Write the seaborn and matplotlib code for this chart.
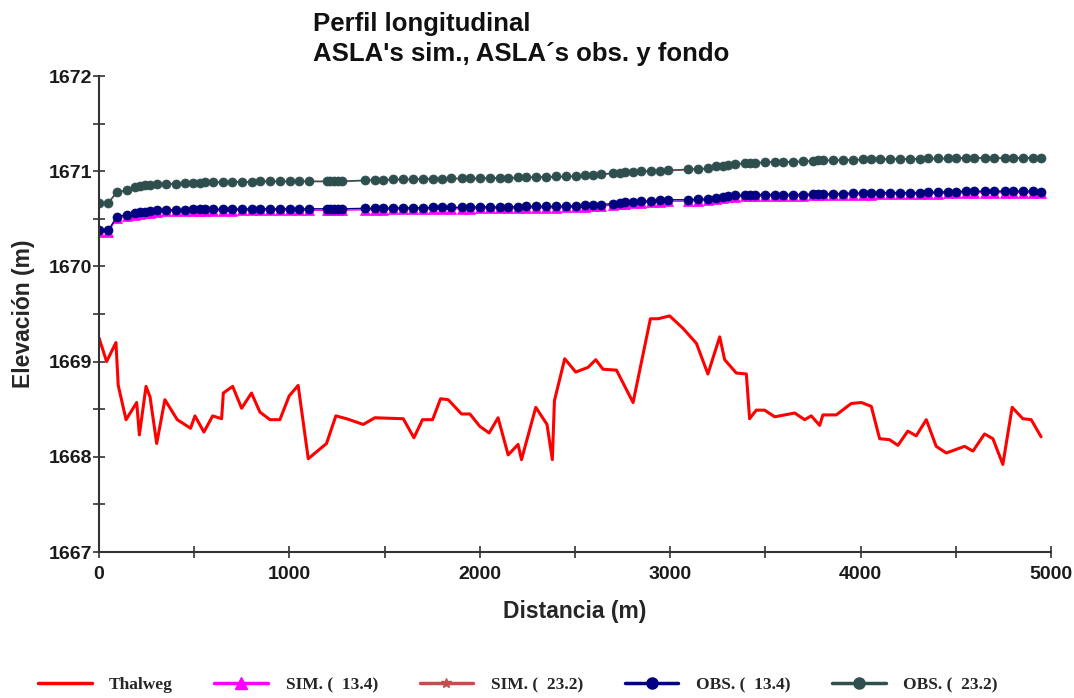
import numpy as np
import pandas as pd
import matplotlib
matplotlib.use('Agg')
import matplotlib.pyplot as plt
from matplotlib.lines import Line2D
from matplotlib.ticker import MultipleLocator
import seaborn as sns

# thalweg (fondo del cauce)
thalweg_x = [0, 40, 89, 101, 142, 198, 212, 247, 268, 303, 346, 411, 481, 504, 551, 597, 644, 653,
             702, 749, 801, 845, 898, 950, 999, 1046, 1099, 1195, 1244, 1300, 1388, 1449, 1598, 1654,
             1699, 1752, 1794, 1834, 1904, 1948, 2000, 2049, 2096, 2149, 2201, 2219, 2294, 2353, 2381,
             2392, 2446, 2504, 2569, 2609, 2647, 2718, 2805, 2896, 2936, 2997, 3067, 3138, 3198, 3260,
             3286, 3347, 3400, 3417, 3452, 3496, 3549, 3654, 3706, 3741, 3785, 3802, 3872, 3951, 4004,
             4056, 4100, 4152, 4196, 4248, 4292, 4345, 4397, 4450, 4546, 4590, 4651, 4695, 4747, 4796,
             4852, 4896, 4948]
thalweg_z = [1669.25, 1669.00, 1669.20, 1668.75, 1668.39, 1668.57, 1668.23, 1668.74, 1668.63, 1668.14,
             1668.60, 1668.39, 1668.30, 1668.43, 1668.26, 1668.43, 1668.40, 1668.67, 1668.74, 1668.51,
             1668.67, 1668.47, 1668.39, 1668.39, 1668.64, 1668.75, 1667.98, 1668.14, 1668.43, 1668.40,
             1668.34, 1668.41, 1668.40, 1668.20, 1668.39, 1668.39, 1668.61, 1668.60, 1668.45, 1668.45,
             1668.32, 1668.25, 1668.41, 1668.02, 1668.13, 1667.97, 1668.52, 1668.34, 1667.97, 1668.59,
             1669.03, 1668.89, 1668.94, 1669.02, 1668.92, 1668.91, 1668.57, 1669.45, 1669.45, 1669.48,
             1669.35, 1669.19, 1668.87, 1669.26, 1669.02, 1668.88, 1668.87, 1668.40, 1668.49, 1668.49,
             1668.42, 1668.46, 1668.39, 1668.43, 1668.33, 1668.44, 1668.44, 1668.56, 1668.57, 1668.53,
             1668.19, 1668.18, 1668.12, 1668.27, 1668.22, 1668.39, 1668.11, 1668.04, 1668.11, 1668.06,
             1668.24, 1668.19, 1667.92, 1668.52, 1668.40, 1668.39, 1668.21]

# secciones con nivel de agua
stations = [0, 49, 93, 145, 189, 215, 242, 268, 303, 352,
            404, 451, 495, 530, 556, 600, 649, 696, 749, 801,
            845, 898, 950, 1003, 1052, 1104, 1195, 1215, 1235, 1255,
            1275, 1396, 1449, 1493, 1545, 1598, 1650, 1702, 1755, 1799,
            1851, 1904, 1947, 1999, 2052, 2105, 2149, 2201, 2245, 2297,
            2350, 2402, 2455, 2507, 2550, 2595, 2639, 2700, 2735, 2761,
            2805, 2848, 2901, 2945, 2988, 3093, 3146, 3198, 3242, 3277,
            3303, 3338, 3391, 3417, 3443, 3496, 3548, 3592, 3645, 3697,
            3750, 3776, 3802, 3855, 3907, 3960, 4012, 4056, 4100, 4152,
            4205, 4257, 4310, 4353, 4406, 4458, 4502, 4554, 4598, 4651,
            4703, 4756, 4800, 4852, 4904, 4948]

obs_232 = [1670.67, 1670.67, 1670.78, 1670.80, 1670.83, 1670.84, 1670.85, 1670.855, 1670.87, 1670.87,
           1670.87, 1670.875, 1670.88, 1670.88, 1670.885, 1670.885, 1670.885, 1670.89, 1670.89, 1670.89,
           1670.895, 1670.895, 1670.895, 1670.895, 1670.895, 1670.895, 1670.895, 1670.895, 1670.895, 1670.895,
           1670.895, 1670.905, 1670.91, 1670.91, 1670.915, 1670.915, 1670.915, 1670.92, 1670.92, 1670.92,
           1670.925, 1670.925, 1670.925, 1670.925, 1670.93, 1670.93, 1670.93, 1670.935, 1670.935, 1670.94,
           1670.94, 1670.945, 1670.945, 1670.95, 1670.955, 1670.96, 1670.97, 1670.98, 1670.985, 1670.99,
           1670.995, 1671.00, 1671.005, 1671.005, 1671.01, 1671.02, 1671.025, 1671.03, 1671.05, 1671.055,
           1671.07, 1671.075, 1671.085, 1671.09, 1671.09, 1671.095, 1671.10, 1671.10, 1671.10, 1671.105,
           1671.11, 1671.115, 1671.115, 1671.115, 1671.12, 1671.12, 1671.125, 1671.125, 1671.125, 1671.13,
           1671.13, 1671.13, 1671.13, 1671.135, 1671.135, 1671.135, 1671.14, 1671.14, 1671.14, 1671.14,
           1671.14, 1671.14, 1671.14, 1671.14, 1671.14, 1671.14]

sim_232 = [1670.665, 1670.665, 1670.775, 1670.795, 1670.825, 1670.835, 1670.845, 1670.85, 1670.865, 1670.865,
           1670.865, 1670.87, 1670.875, 1670.875, 1670.88, 1670.88, 1670.88, 1670.885, 1670.885, 1670.885,
           1670.89, 1670.89, 1670.89, 1670.89, 1670.89, 1670.89, 1670.89, 1670.89, 1670.89, 1670.89,
           1670.89, 1670.90, 1670.905, 1670.905, 1670.91, 1670.91, 1670.91, 1670.915, 1670.915, 1670.915,
           1670.92, 1670.92, 1670.92, 1670.92, 1670.925, 1670.925, 1670.925, 1670.93, 1670.93, 1670.935,
           1670.935, 1670.94, 1670.94, 1670.945, 1670.95, 1670.955, 1670.965, 1670.975, 1670.98, 1670.985,
           1670.99, 1670.995, 1671.00, 1671.00, 1671.005, 1671.015, 1671.02, 1671.025, 1671.045, 1671.05,
           1671.065, 1671.07, 1671.08, 1671.085, 1671.085, 1671.09, 1671.095, 1671.095, 1671.095, 1671.10,
           1671.105, 1671.11, 1671.11, 1671.11, 1671.115, 1671.115, 1671.12, 1671.12, 1671.12, 1671.125,
           1671.125, 1671.125, 1671.125, 1671.13, 1671.13, 1671.13, 1671.135, 1671.135, 1671.135, 1671.135,
           1671.135, 1671.135, 1671.135, 1671.135, 1671.135, 1671.135]

obs_134 = [1670.38, 1670.38, 1670.52, 1670.545, 1670.56, 1670.57, 1670.575, 1670.58, 1670.59, 1670.595,
           1670.595, 1670.595, 1670.60, 1670.60, 1670.60, 1670.60, 1670.60, 1670.60, 1670.605, 1670.605,
           1670.605, 1670.605, 1670.605, 1670.605, 1670.605, 1670.605, 1670.605, 1670.605, 1670.605, 1670.605,
           1670.605, 1670.61, 1670.61, 1670.61, 1670.615, 1670.615, 1670.615, 1670.615, 1670.62, 1670.62,
           1670.62, 1670.62, 1670.62, 1670.625, 1670.625, 1670.625, 1670.625, 1670.625, 1670.63, 1670.63,
           1670.63, 1670.63, 1670.635, 1670.635, 1670.64, 1670.645, 1670.65, 1670.66, 1670.67, 1670.675,
           1670.68, 1670.685, 1670.69, 1670.695, 1670.70, 1670.70, 1670.705, 1670.71, 1670.72, 1670.73,
           1670.74, 1670.745, 1670.75, 1670.75, 1670.755, 1670.755, 1670.755, 1670.755, 1670.755, 1670.755,
           1670.76, 1670.76, 1670.76, 1670.765, 1670.765, 1670.77, 1670.77, 1670.77, 1670.775, 1670.775,
           1670.775, 1670.775, 1670.775, 1670.78, 1670.78, 1670.785, 1670.785, 1670.79, 1670.79, 1670.79,
           1670.79, 1670.79, 1670.79, 1670.79, 1670.79, 1670.785]

sim_134 = [1670.365, 1670.365, 1670.505, 1670.53, 1670.545, 1670.555, 1670.56, 1670.565, 1670.575, 1670.58,
           1670.58, 1670.58, 1670.585, 1670.585, 1670.585, 1670.585, 1670.585, 1670.585, 1670.59, 1670.59,
           1670.59, 1670.59, 1670.59, 1670.59, 1670.59, 1670.59, 1670.59, 1670.59, 1670.59, 1670.59,
           1670.59, 1670.595, 1670.595, 1670.595, 1670.60, 1670.60, 1670.60, 1670.60, 1670.605, 1670.605,
           1670.605, 1670.605, 1670.605, 1670.61, 1670.61, 1670.61, 1670.61, 1670.61, 1670.615, 1670.615,
           1670.615, 1670.615, 1670.62, 1670.62, 1670.625, 1670.63, 1670.635, 1670.645, 1670.655, 1670.66,
           1670.665, 1670.67, 1670.675, 1670.68, 1670.685, 1670.685, 1670.69, 1670.695, 1670.705, 1670.715,
           1670.725, 1670.73, 1670.735, 1670.735, 1670.74, 1670.74, 1670.74, 1670.74, 1670.74, 1670.74,
           1670.745, 1670.745, 1670.745, 1670.75, 1670.75, 1670.755, 1670.755, 1670.755, 1670.76, 1670.76,
           1670.76, 1670.76, 1670.76, 1670.765, 1670.765, 1670.77, 1670.77, 1670.775, 1670.775, 1670.775,
           1670.775, 1670.775, 1670.775, 1670.775, 1670.775, 1670.77]

labels = ['Thalweg', 'SIM. (  13.4)', 'SIM. (  23.2)', 'OBS. (  13.4)', 'OBS. (  23.2)']
colors = ['#ff0000', '#ff00ff', '#c0504d', '#000080', '#2f4f4f']
markers = [None, '^', '*', 'o', 'o']

sns.set_style('ticks')
plt.rcParams['font.family'] = ['Liberation Sans', 'DejaVu Sans']

fig = plt.figure(figsize=(10.74, 6.98), dpi=100)
ax = fig.add_axes([99 / 1074, 1 - 552 / 698, 952 / 1074, 476 / 698])

sns.lineplot(x=thalweg_x, y=thalweg_z, color=colors[0], linewidth=2.2, sort=False,
             estimator=None, ax=ax, legend=False)
series = [sim_134, sim_232, obs_134, obs_232]
for i, vals in enumerate(series, start=1):
    sns.lineplot(x=stations, y=vals, color=colors[i], linewidth=1.0, marker=markers[i],
                 markersize=6.5 if markers[i] != '*' else 5.5, markeredgecolor=colors[i],
                 markeredgewidth=0.5, sort=False, estimator=None, ax=ax, legend=False)

ax.set_xlim(0, 5000)
ax.set_ylim(1667, 1672)
ax.xaxis.set_major_locator(MultipleLocator(1000))
ax.xaxis.set_minor_locator(MultipleLocator(500))
ax.yaxis.set_major_locator(MultipleLocator(1))
ax.yaxis.set_minor_locator(MultipleLocator(0.5))
for side in ['top', 'right']:
    ax.spines[side].set_visible(False)
for side in ['left', 'bottom']:
    ax.spines[side].set_color('#333333')
    ax.spines[side].set_linewidth(1.5)
ax.tick_params(which='both', direction='inout', length=8, width=1.2, color='#333333')
ax.tick_params(axis='x', which='major', pad=6)
ax.tick_params(axis='y', which='major', pad=1)
for lab in ax.get_xticklabels() + ax.get_yticklabels():
    lab.set_fontsize(14)
    lab.set_fontweight('bold')
    lab.set_color('#1a1a1a')

ax.set_xlabel('Distancia (m)', fontsize=16.5, fontweight='bold', labelpad=12)
ax.set_ylabel('Elevación (m)', fontsize=16.5, fontweight='bold', labelpad=10)

fig.text(313 / 1074, 1 - 12 / 698, "Perfil longitudinal\nASLA's sim., ASLA´s obs. y fondo",
         ha='left', va='top', fontsize=18.5, fontweight='bold', linespacing=1.3, color='#111111')

handles = [Line2D([], [], color=colors[0], linewidth=2.5)]
for i in range(1, 5):
    handles.append(Line2D([], [], color=colors[i], linewidth=2.5, marker=markers[i],
                          markersize=8 if markers[i] != '*' else 7,
                          markeredgecolor=colors[i]))
fig.legend(handles, labels, loc='center', bbox_to_anchor=(0.482, 1 - 685 / 698), ncol=5,
           frameon=False, handlelength=3.1, handletextpad=1.0, columnspacing=2.4,
           prop={'family': 'Liberation Serif', 'weight': 'bold', 'size': 12.5})

fig.savefig('out.png', dpi=100)
